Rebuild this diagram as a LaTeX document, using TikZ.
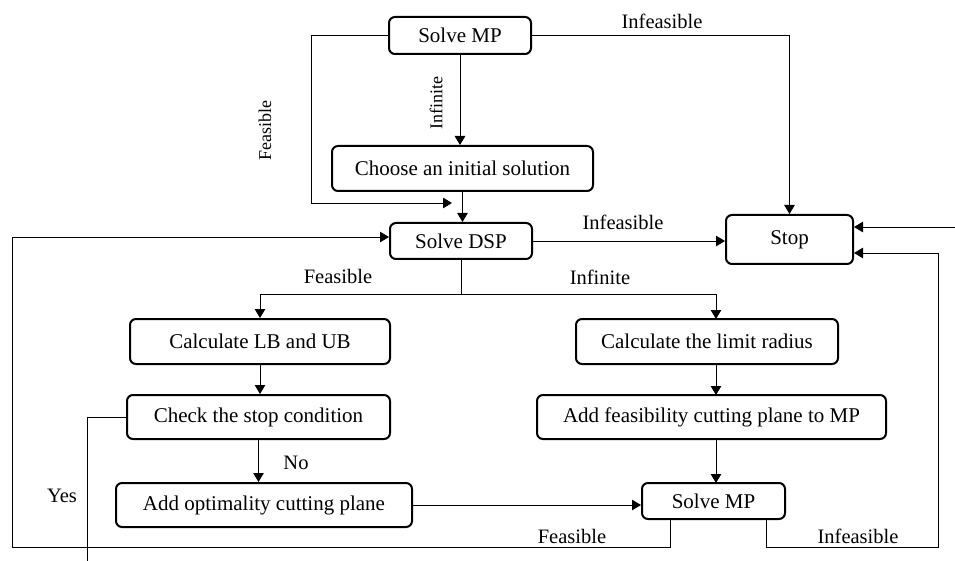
\documentclass[tikz,border=0pt]{standalone}
\usepackage{fontspec}
\setmainfont{Liberation Serif}
\usetikzlibrary{arrows.meta,calc}
\begin{document}
\begin{tikzpicture}[x=1pt,y=-1pt,
  box/.style={draw,rectangle,rounded corners=6pt,line width=2pt,inner sep=0pt,
    font=\fontsize{21}{25}\selectfont},
  lbl/.style={font=\fontsize{20.5}{24}\selectfont,inner sep=0pt},
  rlbl/.style={font=\fontsize{18}{21}\selectfont,inner sep=0pt,rotate=90},
  conn/.style={line width=0.9pt},
  arr/.style={conn,-{Triangle[length=9pt,width=10.5pt]}}]
\useasboundingbox (0,0) rectangle (955,561);
% nodes
\node[box,minimum width=142pt,minimum height=37pt] (smp1) at (460,35.5) {Solve MP};
\node[box,minimum width=261pt,minimum height=45pt] (init) at (462.5,168.5) {Choose an initial solution};
\node[box,minimum width=142pt,minimum height=36pt] (dsp) at (461,241) {Solve DSP};
\node[box,minimum width=127pt,minimum height=49pt] (stop) at (789.5,239.5) {Stop};
\node[box,minimum width=260pt,minimum height=45pt] (lbub) at (260,341.5) {Calculate LB and UB};
\node[box,minimum width=262pt,minimum height=45pt] (radius) at (707,341.5) {Calculate the limit radius};
\node[box,minimum width=263pt,minimum height=44pt] (check) at (258.5,417) {Check the stop condition};
\node[box,minimum width=349pt,minimum height=44pt] (feas) at (711.5,417) {Add feasibility cutting plane to MP};
\node[box,minimum width=296pt,minimum height=44pt] (opt) at (264,505) {Add optimality cutting plane};
\node[box,minimum width=143pt,minimum height=36pt] (smp2) at (713.5,501) {Solve MP};
% coordinates
\coordinate (fb) at (452,203);
\coordinate (yesend) at (87,561);
\coordinate (inR) at (955,227);
% connectors
\draw[arr] (smp1.east) -| (stop.north);
\draw[arr] (smp1.west) -| (311,203) -- (fb);
\draw[arr] (smp1.south) -- (smp1.south |- init.north);
\draw[arr] (init.south) -- (init.south |- dsp.north);
\draw[arr] (dsp.east) -- (dsp.east -| stop.west);
\draw[arr] (dsp.south) -- (461,294) -| (lbub.north);
\draw[arr] (461,294) -| (716,319);
\draw[arr] (lbub.south) -- (lbub.south |- check.north);
\draw[arr] (check.south) -- (check.south |- opt.north);
\draw[conn] (check.west) -| (yesend);
\draw[arr] (716,364) -- (716,395);
\draw[arr] (716,439) -- (716,483);
\draw[arr] (opt.east) -- (opt.east -| smp2.west);
\draw[arr] (670,519) -- (670,547) -- (12,547) |- ([yshift=4pt]dsp.west);
\draw[arr] (766,519) -- (766,547) -- (938,547) |- ([yshift=-13.5pt]stop.east);
\draw[arr] (inR) -- ([yshift=12.5pt]stop.east);
% labels
\node[lbl] (l1) at (662,21) {Infeasible};
\node[rlbl] (l2) at (265,131) {Feasible};
\node[rlbl] (l3) at (436,103) {Infinite};
\node[lbl] (l4) at (623,222) {Infeasible};
\node[lbl] (l5) at (338,276) {Feasible};
\node[lbl] (l6) at (600,277) {Infinite};
\node[lbl] (l7) at (296,463) {No};
\node[lbl] (l8) at (62,496) {Yes};
\node[lbl] (l9) at (572,536) {Feasible};
\node[lbl] (l10) at (858,536) {Infeasible};
\end{tikzpicture}
\end{document}
